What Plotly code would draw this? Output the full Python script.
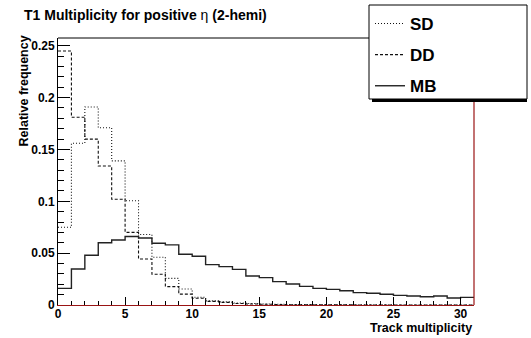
import plotly.graph_objects as go

# ---- data (bin contents for bins [0,1), [1,2), ... [30,31)) ----
bin_edges = list(range(32))
sd_vals = [0.075, 0.156, 0.191, 0.171, 0.139, 0.1006, 0.068, 0.046, 0.0257, 0.0154,
           0.0075, 0.004, 0.003, 0.002, 0.0015, 0.001, 0.0007, 0.0005, 0.0004, 0.0003,
           0.0002, 0.0002, 0.0001, 0.0001, 0.0001, 0, 0, 0, 0, 0, 0]
dd_vals = [0.245, 0.181, 0.160, 0.134, 0.102, 0.070, 0.0444, 0.0296, 0.0177, 0.0105,
           0.0065, 0.0035, 0.0025, 0.0015, 0.001, 0.0007, 0.0005, 0.0003, 0.0002, 0.0002,
           0.0001, 0.0001, 0, 0, 0, 0, 0, 0, 0, 0, 0]
mb_vals = [0.016, 0.0347, 0.048, 0.060, 0.0627, 0.066, 0.0646, 0.0595, 0.058, 0.049,
           0.047, 0.0389, 0.037, 0.0344, 0.028, 0.0264, 0.0225, 0.0203, 0.018, 0.016,
           0.0151, 0.0137, 0.0119, 0.0113, 0.0103, 0.0093, 0.0087, 0.008, 0.0087, 0.0068,
           0.0074]
series_names = ["SD", "DD", "MB"]
x_ticks = [0, 5, 10, 15, 20, 25, 30]
title_text = "T1 Multiplicity for positive η (2-hemi)"
x_title = "Track multiplicity"
y_title = "Relative frequency"

W, H = 531, 338
L, R, T, B = 58, 57, 38, 33
PW, PH = W - L - R, H - T - B


def px(xp):
    return (xp - L) / PW


def py(yp):
    return (H - B - yp) / PH


FONT = "Liberation Sans, Arial, sans-serif"
RED = "#9a1414"

fig = go.Figure()
styles = [
    dict(dash="1px,2px", width=1.1, color="#111"),
    dict(dash="3px,2px", width=1.1, color="#111"),
    dict(dash="solid", width=1.4, color="#222"),
]
for name, vals, st in zip(series_names, [sd_vals, dd_vals, mb_vals], styles):
    fig.add_trace(go.Scatter(
        x=bin_edges, y=vals + [vals[-1]], mode="lines", line_shape="hv",
        line=st, name=name, legendgroup=name, hoverinfo="skip"))

shapes = [
    # frame top (black) and right (red)
    dict(type="line", xref="paper", yref="paper", x0=0, x1=1, y0=1, y1=1,
         line=dict(color="#000", width=1)),
    dict(type="line", xref="paper", yref="paper", x0=1, x1=1, y0=0, y1=1,
         line=dict(color=RED, width=1.2)),
    # legend shadow and box
    dict(type="rect", xref="paper", yref="paper", x0=px(372), x1=px(527),
         y0=py(102), y1=py(99), fillcolor="#000", line=dict(width=0)),
    dict(type="rect", xref="paper", yref="paper", x0=px(369), x1=px(527),
         y0=py(99), y1=py(5), fillcolor="#fff", line=dict(color="#000", width=1)),
]

annotations = [
    dict(text="<b>T1 Multiplicity for positive </b>η<b> (2-hemi)</b>", xref="paper", yref="paper",
         x=px(22), y=py(15), xanchor="left", yanchor="middle", showarrow=False,
         font=dict(family=FONT, size=14, color="#000")),
    dict(text="<b>%s</b>" % x_title, xref="paper", yref="paper",
         x=px(474), y=py(328), xanchor="right", yanchor="middle", showarrow=False,
         font=dict(family=FONT, size=12.5, color="#000")),
    dict(text="<b>%s</b>" % y_title, xref="paper", yref="paper", textangle=-90,
         x=px(23), y=py(34), xanchor="center", yanchor="top", showarrow=False,
         font=dict(family=FONT, size=12.5, color="#000")),
]

fig.update_layout(
    width=W, height=H,
    margin=dict(l=L, r=R, t=T, b=B, autoexpand=False),
    paper_bgcolor="#fff", plot_bgcolor="#fff",
    font=dict(family=FONT, size=12, color="#000"),
    shapes=shapes, annotations=annotations,
    showlegend=True,
    legend=dict(x=px(370), y=py(6), xanchor="left", yanchor="top",
                bgcolor="rgba(0,0,0,0)", borderwidth=0, tracegroupgap=6,
                font=dict(family=FONT, size=17, color="#000", weight="bold")),
)
fig.update_xaxes(
    range=[0, 31], showgrid=False, zeroline=False,
    showline=True, linecolor=RED, linewidth=1.2,
    ticks="inside", ticklen=8, tickcolor="#000", tickwidth=1,
    tickvals=x_ticks, tickfont=dict(family=FONT, size=12, weight="bold"),
    ticklabelstandoff=-3,
    minor=dict(ticks="inside", ticklen=4, dtick=1, tickcolor="#000", showgrid=False),
)
fig.update_yaxes(
    range=[0, 0.2575], showgrid=False, zeroline=False,
    showline=True, linecolor="#000", linewidth=1,
    ticks="inside", ticklen=12, tickcolor="#000", tickwidth=1,
    dtick=0.05, tickfont=dict(family=FONT, size=12, weight="bold"),
    ticklabelstandoff=0,
    minor=dict(ticks="inside", ticklen=6, dtick=0.01, tickcolor="#000", showgrid=False),
)

fig.write_html("out.html")
